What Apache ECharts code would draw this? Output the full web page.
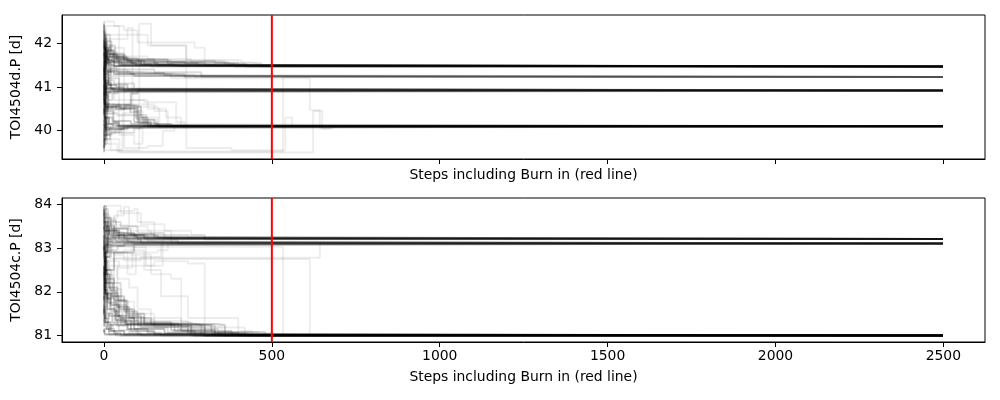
<!DOCTYPE html>
<html><head><meta charset="utf-8">
<script src="https://cdn.jsdelivr.net/npm/echarts@6/dist/echarts.min.js"></script>
<style>html,body{margin:0;padding:0;background:#fff}#c{width:1000px;height:400px}</style>
</head><body><div id="c"></div>
<script>
const xMin = -125, xMax = 2624;
const xTicks = [0, 500, 1000, 1500, 2000, 2500];
const burnIn = 500;
const lastStep = 2499;
const xName = 'Steps including Burn in (red line)';

const dName = 'TOI4504d.P [d]';
const dMin = 39.35, dMax = 42.65;
const dTicks = [40, 41, 42];
const cName = 'TOI4504c.P [d]';
const cMin = 80.85, cMax = 84.15;
const cTicks = [81, 82, 83, 84];

// each walker path: [number of walkers sharing it, step, value, step, value, ...]
const dWalkers = [
  [3, 0,42.3, 3,42.04, 7,41.8, 12,41.62, 30,41.55, 45,41.5, 90,41.47],
  [3, 0,41.7, 2,41.95, 5,41.6, 9,41.55, 20,41.49, 60,41.47],
  [3, 0,42.45, 2,42.2, 6,42.1, 10,41.9, 15,41.75, 40,41.6, 120,41.52, 200,41.48, 230,41.47],
  [3, 0,41.18, 2,41.8, 6,41.7, 14,41.66, 25,41.62, 80,41.55, 160,41.5, 260,41.47],
  [2, 0,39.9, 3,40.8, 5,41.9, 12,41.75, 30,41.64, 150,41.57, 300,41.5, 380,41.47],
  [2, 0,40.77, 3,41.65, 8,41.9, 20,41.7, 60,41.58, 240,41.53, 420,41.47],
  [3, 0,41.97, 4,41.8, 10,41.58, 50,41.5, 75,41.47],
  [2, 0,41.53, 4,41.9, 8,42.2, 18,41.7, 40,41.66, 70,41.6, 110,41.5, 140,41.47],
  [3, 0,40.34, 4,41.4, 8,41.7, 12,41.56, 30,41.48, 50,41.47],
  [2, 0,42.5, 2,41.85, 10,41.75, 35,41.66, 100,41.6, 330,41.55, 400,41.5, 460,41.47],
  [2, 0,39.6, 4,40.5, 7,41.1, 14,41.7, 55,41.52, 140,41.47],
  [3, 0,41.88, 8,42.05, 22,41.75, 60,41.63, 190,41.54, 280,41.49, 320,41.47],
  [3, 0,41.35, 3,41.6, 6,41.52, 18,41.48, 35,41.47],
  [2, 0,42.15, 5,41.45, 9,41.85, 28,41.68, 70,41.58, 130,41.56, 350,41.52, 390,41.47],
  [3, 0,40.58, 2,42.03, 6,41.65, 15,41.6, 45,41.55, 95,41.5, 180,41.47],
  [2, 0,42.27, 2,41.9, 4,42.05, 9,41.72, 16,41.83, 27,41.66, 48,41.58, 85,41.52, 150,41.49, 210,41.47],
  [2, 0,41.63, 3,41.78, 7,41.57, 13,41.69, 24,41.61, 52,41.55, 110,41.5, 170,41.47],
  [2, 0,39.62, 2,40.35, 5,41.15, 8,41.82, 14,41.95, 33,41.72, 66,41.6, 150,41.54, 270,41.5, 340,41.47],
  [1, 0,40.93, 3,41.48, 6,42.25, 11,41.97, 19,41.8, 38,41.69, 75,41.62, 200,41.56, 440,41.52, 470,41.47],
  [2, 0,41.13, 2,41.42, 5,41.76, 10,41.64, 21,41.57, 44,41.51, 70,41.47],
  [1, 0,42.38, 4,42.12, 8,41.55, 15,41.92, 30,41.78, 58,41.7, 130,41.64, 260,41.58, 370,41.52, 430,41.47],
  [3, 0,41.8, 5,41.4, 12,41.35, 30,41.3, 90,41.25, 120,41.23],
  [2, 0,40.62, 6,41.35, 60,41.32, 180,41.27, 250,41.23],
  [2, 0,42.2, 4,41.9, 8,41.5, 20,41.26, 40,41.23],
  [2, 0,41.08, 12,41.38, 40,41.33, 110,41.3, 240,41.23],
  [2, 0,39.7, 9,41.04, 20,41.45, 40,41.4, 150,41.34, 290,41.24, 310,41.23],
  [1, 0,42.35, 6,41.7, 15,41.4, 70,41.3, 200,41.26, 230,41.23],
  [2, 0,41.27, 4,41.56, 9,41.34, 18,41.42, 37,41.35, 80,41.3, 160,41.26, 205,41.23],
  [1, 0,42.03, 3,41.71, 7,41.46, 17,41.38, 34,41.31, 140,41.28, 270,41.23],
  [4, 0,41.04, 3,40.95, 15,40.92],
  [3, 0,41.6, 5,41.1, 20,40.96, 50,40.92],
  [3, 0,40.4, 4,40.75, 12,40.9, 30,40.92],
  [3, 0,42.1, 3,41.3, 14,41.05, 70,40.95, 110,40.92],
  [3, 0,39.8, 6,40.55, 40,40.6, 80,40.85, 100,40.92],
  [3, 0,41.3, 4,41.1, 9,40.98, 25,40.92],
  [3, 0,40.7, 2,41.15, 12,41.05, 35,41.0, 60,40.92],
  [2, 0,42.42, 4,41.85, 10,41.2, 45,40.94, 65,40.92],
  [3, 0,40.2, 3,40.6, 7,40.88, 18,40.92],
  [2, 0,39.55, 4,40.3, 10,40.7, 25,40.85, 40,40.92],
  [2, 0,41.45, 3,40.8, 8,41.05, 20,40.97, 55,40.92],
  [2, 0,40.85, 6,41.15, 30,41.08, 90,40.96, 130,40.92],
  [2, 0,41.06, 2,40.84, 6,41.02, 13,40.88, 22,40.95, 38,40.92],
  [2, 0,40.63, 3,40.98, 8,40.84, 17,40.97, 32,40.9, 48,40.92],
  [1, 0,41.77, 2,41.27, 5,40.78, 10,41.07, 21,40.99, 55,40.95, 95,40.92],
  [4, 0,40.16, 4,40.07, 10,40.1],
  [4, 0,40.5, 3,40.3, 15,40.16, 40,40.1],
  [3, 0,39.6, 5,39.9, 14,40.04, 60,40.1],
  [3, 0,40.9, 4,40.55, 50,40.5, 90,40.2, 140,40.12, 170,40.1],
  [3, 0,39.9, 7,40.3, 25,40.22, 80,40.15, 120,40.1],
  [3, 0,41.5, 3,40.6, 20,40.58, 70,40.55, 110,40.3, 130,40.1],
  [3, 0,40.3, 6,40.02, 30,40.05, 70,40.1],
  [3, 0,42.07, 5,40.8, 12,40.5, 60,40.52, 100,40.25, 150,40.15, 200,40.1],
  [2, 0,39.5, 3,39.8, 18,39.95, 90,40.05, 110,40.1],
  [3, 0,40.6, 10,40.45, 28,40.2, 45,40.1],
  [2, 0,41.9, 6,40.4, 40,40.35, 100,40.18, 160,40.1],
  [2, 0,39.75, 4,40.2, 9,39.9, 22,39.97, 50,40.06, 85,40.1],
  [2, 0,40.75, 5,40.45, 12,40.6, 35,40.55, 75,40.52, 95,40.3, 120,40.15, 140,40.1],
  [3, 0,41.2, 3,40.25, 8,40.15, 20,40.12, 30,40.1],
  [2, 0,40.47, 2,40.72, 6,40.58, 11,40.5, 25,40.6, 47,40.53, 78,40.42, 105,40.18, 135,40.1],
  [2, 0,39.73, 3,40.44, 7,40.62, 16,40.55, 36,40.5, 65,40.58, 100,40.36, 125,40.14, 150,40.1],
  [2, 0,40.23, 3,39.97, 6,40.27, 12,40.06, 26,40.18, 43,40.13, 65,40.1],
  [1, 0,39.51, 4,39.86, 9,40.12, 17,39.93, 34,40.02, 72,40.08, 95,40.1],
  [1, 0,39.86, 2,40.14, 6,40.55, 12,40.38, 28,40.47, 60,40.6, 90,40.45, 115,40.25, 155,40.1],
  [1, 0,40.03, 20,39.55, 105,42.45, 140,41.95, 245,41.62, 410,41.55, 470,41.5, 500,41.47],
  [1, 0,39.7, 40,39.52, 533,41.23],
  [1, 0,41.83, 30,41.3, 200,41.2, 613,40.47, 643,40.05, 673,40.1],
  [1, 0,39.8, 46,39.5, 623,40.45, 650,40.05, 680,40.1],
  [1, 0,42.2, 130,41.95, 245,39.6, 380,39.55, 540,40.3, 560,40.1],
  [1, 0,40.8, 15,40.55, 160,40.5, 185,40.3, 230,40.1],
  [1, 0,40.97, 30,40.7, 120,40.65, 215,40.2, 240,40.1],
  [1, 0,42.4, 60,42.3, 100,42.02, 270,41.9, 300,41.6, 360,41.5, 380,41.47],
  [1, 0,42.5, 30,42.4, 45,39.9, 90,39.7, 115,40.3, 160,40.1],
  [1, 0,39.55, 55,40.4, 80,40.7, 130,40.5, 165,40.1],
  [1, 0,42.1, 70,42.35, 85,40.6, 150,40.45, 190,40.1],
  [1, 0,41.6, 35,41.9, 60,39.6, 130,39.65, 175,40.0, 210,40.1]
];

const cWalkers = [
  [4, 0,83.9, 2,83.6, 4,83.5, 15,83.3, 60,83.22, 80,83.21],
  [3, 0,83.3, 3,83.23, 20,83.21],
  [3, 0,82.6, 3,82.3, 5,83.04, 12,83.35, 90,83.25, 130,83.21],
  [3, 0,83.96, 6,83.7, 20,83.45, 70,83.32, 150,83.24, 200,83.21],
  [3, 0,81.8, 4,82.9, 10,83.5, 30,83.28, 100,83.21],
  [3, 0,83.6, 10,83.4, 40,83.3, 120,83.22, 140,83.21],
  [2, 0,82.2, 8,83.6, 50,83.5, 100,83.35, 180,83.25, 240,83.21],
  [2, 0,83.75, 3,83.9, 12,83.55, 30,83.45, 80,83.3, 160,83.23, 190,83.21],
  [2, 0,81.3, 3,82.04, 6,82.8, 15,83.25, 45,83.21],
  [2, 0,83.43, 2,83.72, 5,83.38, 11,83.56, 22,83.41, 46,83.33, 95,83.26, 160,83.22, 210,83.21],
  [2, 0,82.77, 3,83.27, 6,83.61, 14,83.44, 29,83.36, 61,83.29, 120,83.23, 170,83.21],
  [1, 0,83.88, 2,83.52, 7,83.77, 16,83.63, 36,83.52, 72,83.4, 140,83.3, 250,83.24, 290,83.21],
  [4, 0,82.96, 3,83.08, 15,83.11],
  [3, 0,83.5, 5,83.2, 25,83.12, 40,83.11],
  [3, 0,82.4, 6,82.8, 20,83.05, 60,83.11],
  [3, 0,83.8, 3,83.4, 45,83.2, 110,83.12, 130,83.11],
  [3, 0,81.5, 5,82.5, 30,82.9, 90,83.08, 140,83.11],
  [3, 0,82.9, 10,83.15, 70,83.11],
  [2, 0,83.95, 5,83.65, 35,83.3, 130,83.18, 220,83.11],
  [2, 0,82.06, 3,82.6, 8,83.4, 25,83.25, 70,83.15, 100,83.11],
  [2, 0,81.2, 2,81.9, 5,82.7, 10,82.95, 40,83.05, 85,83.11],
  [2, 0,82.13, 2,82.64, 5,83.18, 9,83.02, 19,83.2, 38,83.14, 75,83.11],
  [2, 0,83.63, 3,83.31, 7,83.47, 15,83.26, 33,83.17, 66,83.13, 90,83.11],
  [1, 0,81.58, 3,82.35, 6,82.94, 12,83.33, 27,83.22, 55,83.17, 120,83.14, 160,83.11],
  [5, 0,81.14, 3,81.02, 10,81.0],
  [4, 0,81.6, 5,81.3, 20,81.1, 60,81.02, 90,81.0],
  [4, 0,82.3, 6,81.97, 20,81.7, 45,81.4, 90,81.15, 180,81.05, 300,81.0],
  [4, 0,82.04, 10,81.6, 35,81.35, 80,81.1, 150,81.03, 200,81.0],
  [3, 0,83.04, 4,82.4, 15,82.1, 40,81.8, 70,81.5, 120,81.25, 230,81.1, 380,81.02, 450,81.0],
  [3, 0,81.3, 8,81.15, 30,81.05, 50,81.0],
  [3, 0,82.6, 3,82.2, 25,81.9, 60,81.55, 100,81.3, 200,81.12, 330,81.05, 420,81.0],
  [3, 0,81.9, 5,81.45, 50,81.25, 280,81.24, 320,81.05, 350,81.0],
  [3, 0,83.5, 3,82.7, 10,82.3, 30,81.8, 65,81.26, 330,81.24, 360,81.0],
  [3, 0,81.4, 12,81.24, 200,81.22, 260,81.0],
  [2, 0,82.8, 7,82.5, 22,82.2, 50,81.6, 90,81.35, 150,81.2, 300,81.08, 480,81.0],
  [3, 0,81.07, 2,81.15, 15,81.03, 40,81.0],
  [3, 0,83.3, 2,81.97, 8,81.5, 25,81.3, 70,81.15, 130,81.06, 170,81.0],
  [3, 0,82.45, 4,81.95, 12,81.75, 40,81.45, 110,81.2, 250,81.06, 400,81.0],
  [3, 0,83.98, 2,82.9, 6,82.4, 18,82.03, 35,81.65, 75,81.4, 140,81.25, 210,81.1, 270,81.0],
  [2, 0,81.7, 4,81.2, 15,81.1, 35,81.0],
  [2, 0,82.1, 8,81.85, 30,81.55, 55,81.3, 100,81.24, 300,81.23, 330,81.0],
  [2, 0,83.2, 3,82.5, 9,82.1, 20,81.9, 45,81.6, 85,81.28, 260,81.24, 290,81.0],
  [2, 0,81.83, 2,82.17, 5,81.74, 9,81.94, 18,81.62, 34,81.44, 58,81.33, 102,81.18, 190,81.07, 310,81.02, 380,81.0],
  [2, 0,82.57, 2,82.04, 5,82.28, 11,81.85, 24,81.97, 42,81.69, 68,81.42, 120,81.28, 220,81.15, 340,81.05, 430,81.0],
  [2, 0,81.22, 3,81.47, 7,81.31, 14,81.18, 26,81.26, 44,81.12, 75,81.05, 110,81.0],
  [1, 0,83.13, 2,82.58, 6,82.23, 13,82.39, 28,82.06, 52,81.77, 90,81.5, 150,81.33, 250,81.18, 420,81.06, 500,81.0],
  [2, 0,81.47, 2,81.68, 6,81.38, 15,81.52, 32,81.36, 63,81.26, 160,81.25, 240,81.24, 300,81.0],
  [1, 0,82.32, 3,82.72, 8,82.45, 17,82.6, 40,82.3, 75,82.1, 100,81.6, 140,81.4, 230,81.2, 350,81.08, 460,81.0],
  [2, 0,81.94, 4,82.28, 8,81.83, 20,81.56, 40,81.22, 70,81.14, 100,81.03, 130,81.0],
  [1, 0,83.7, 40,83.85, 90,83.9, 100,83.6, 150,83.3, 300,83.2, 330,83.21],
  [1, 0,83.4, 20,83.03, 533,81.0],
  [1, 0,82.5, 15,82.75, 613,81.0],
  [1, 0,82.2, 30,82.78, 643,83.11],
  [1, 0,81.96, 40,82.6, 150,82.7, 250,82.65, 300,81.05, 330,81.0],
  [1, 0,83.8, 10,82.9, 80,82.85, 140,82.4, 200,82.3, 230,81.3, 260,81.1, 290,81.0],
  [1, 0,83.97, 50,83.8, 110,83.55, 180,83.4, 260,83.3, 300,83.21],
  [1, 0,82.9, 60,82.95, 120,82.5, 170,81.9, 250,81.4, 400,81.1, 440,81.0],
  [1, 0,83.13, 25,82.9, 70,82.4, 95,82.9, 160,82.95, 190,83.11],
  [1, 0,82.7, 45,82.55, 85,83.02, 125,82.6, 175,83.21],
  [1, 0,83.6, 30,83.75, 60,83.95, 75,83.5, 130,83.4, 200,83.11],
  [1, 0,83.27, 2,83.02, 5,82.66, 9,82.91, 30,82.85, 60,82.72, 110,82.8, 170,83.11]
];

const FONT = 'DejaVu Sans';
const FS = 13.9;
const walkerAlpha = 0.07;

function walkerSeries(walkers, idx) {
  return walkers.map(w => {
    const n = w[0];
    const data = [];
    for (let i = 1; i < w.length; i += 2) data.push([w[i], w[i + 1]]);
    const last = data[data.length - 1];
    if (last[0] < lastStep) data.push([lastStep, last[1]]);
    return {
      type: 'line', xAxisIndex: idx, yAxisIndex: idx, data: data,
      step: 'end', symbol: 'none', showSymbol: false, silent: true,
      lineStyle: { color: '#000', width: 2, opacity: 1 - Math.pow(1 - walkerAlpha, n) },
      z: 2
    };
  });
}
function burnSeries(idx, lo, hi) {
  return { type: 'line', xAxisIndex: idx, yAxisIndex: idx,
    data: [[burnIn, lo], [burnIn, hi]], symbol: 'none', silent: true,
    lineStyle: { color: '#ff0000', width: 2 }, z: 5 };
}
function xAxis(idx, showLabels) {
  return {
    type: 'value', gridIndex: idx, min: xMin, max: xMax, position: 'bottom',
    name: xName, nameLocation: 'middle', nameGap: showLabels ? 28 : 9,
    nameTextStyle: { fontFamily: FONT, fontSize: FS, color: '#000' },
    axisLine: { show: true, onZero: false, lineStyle: { color: '#000', width: 1 } },
    axisTick: { show: true, length: 5, customValues: xTicks, lineStyle: { color: '#000', width: 1 } },
    axisLabel: { show: showLabels, customValues: xTicks, margin: 7, fontFamily: FONT, fontSize: FS, color: '#000',
      formatter: v => String(v) },
    splitLine: { show: false }
  };
}
function yAxis(idx, name, lo, hi, ticks) {
  return {
    type: 'value', gridIndex: idx, min: lo, max: hi, position: 'left',
    name: name, nameLocation: 'middle', nameGap: 31, nameRotate: 90,
    nameTextStyle: { fontFamily: FONT, fontSize: FS, color: '#000' },
    axisLine: { show: true, onZero: false, lineStyle: { color: '#000', width: 1 } },
    axisTick: { show: true, length: 5, customValues: ticks, lineStyle: { color: '#000', width: 1 } },
    axisLabel: { customValues: ticks, margin: 10, fontFamily: FONT, fontSize: FS, color: '#000',
      formatter: v => String(v) },
    splitLine: { show: false }
  };
}

const chart = echarts.init(document.getElementById('c'), null, { renderer: 'canvas' });
chart.setOption({
  animation: false,
  backgroundColor: '#fff',
  grid: [
    { left: 62, top: 15, width: 923, height: 144, show: true, borderColor: '#000', borderWidth: 1, backgroundColor: 'transparent' },
    { left: 62, top: 198, width: 923, height: 144, show: true, borderColor: '#000', borderWidth: 1, backgroundColor: 'transparent' }
  ],
  xAxis: [xAxis(0, false), xAxis(1, true)],
  yAxis: [yAxis(0, dName, dMin, dMax, dTicks), yAxis(1, cName, cMin, cMax, cTicks)],
  series: [].concat(
    walkerSeries(dWalkers, 0),
    walkerSeries(cWalkers, 1),
    [burnSeries(0, dMin, dMax), burnSeries(1, cMin, cMax)]
  )
});
</script></body></html>
